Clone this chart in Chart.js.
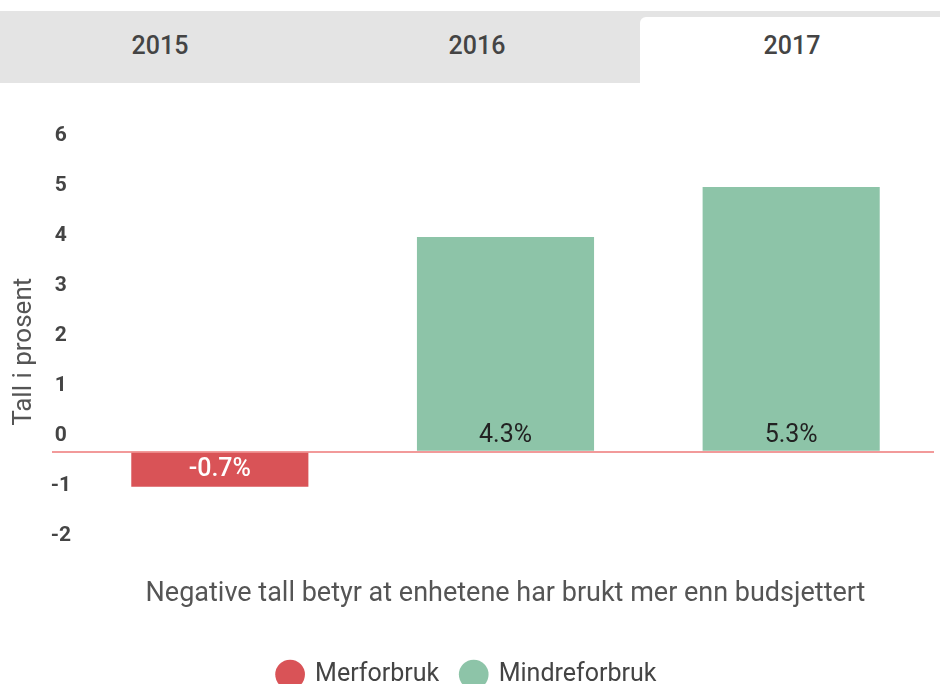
<!DOCTYPE html>
<html>
<head>
<meta charset="utf-8">
<script src="https://cdn.jsdelivr.net/npm/chart.js@4.4.0/dist/chart.umd.min.js"></script>
<style>
  body { margin: 0; background: #fff; font-family: Roboto, sans-serif; width: 940px; height: 684px; overflow: hidden; position: relative; }
  .tabs { position: absolute; left: 0; top: 11px; width: 940px; height: 72px; background: #e4e4e4; }
  .tab { position: absolute; top: 0; height: 72px; font-size: 25px; font-weight: 500; color: #444; text-align: center; line-height: 69px; }
  .tab.active { background: #fff; top: 6px; height: 66px; line-height: 57px; border-top-left-radius: 6px; }
  #wrap { position: absolute; left: 0; top: 83px; width: 940px; height: 614px; }
</style>
</head>
<body>
<div class="tabs">
  <div class="tab" style="left:0;width:320px">2015</div>
  <div class="tab" style="left:317px;width:320px">2016</div>
  <div class="tab active" style="left:640px;width:304px">2017</div>
</div>
<div id="wrap"><canvas id="avvikChart" width="940" height="614"></canvas></div>
<script>
const years = ['2015', '2016', '2017'];
const avvik = [-0.7, 4.3, 5.3];
const seriesNames = ['Merforbruk', 'Mindreforbruk'];
const seriesColors = ['#d95357', '#8dc4a8'];
const yMin = -2;
const yMax = 6;

// negative avvik go to the red series, the rest to the green one
const merforbruk = avvik.map(v => (v < 0 ? v : null));
const mindreforbruk = avvik.map(v => (v >= 0 ? v : null));

// value text sitting inside each bar, next to the zero line
const valueLabels = {
  id: 'valueLabels',
  afterDatasetsDraw(chart) {
    const ctx = chart.ctx;
    ctx.save();
    ctx.textAlign = 'center';
    ctx.textBaseline = 'middle';
    chart.data.datasets.forEach((ds, i) => {
      chart.getDatasetMeta(i).data.forEach((bar, j) => {
        const v = ds.data[j];
        if (v === null || v === undefined) return;
        const neg = v < 0;
        ctx.font = (neg ? '500 ' : '') + '25px Roboto';
        ctx.fillStyle = neg ? '#fff' : '#222';
        ctx.fillText(v + '%', bar.x, bar.base + (neg ? 17 : -15));
      });
    });
    ctx.restore();
  }
};

new Chart(document.getElementById('avvikChart'), {
  type: 'bar',
  data: {
    labels: years,
    datasets: [
      { label: seriesNames[0], data: merforbruk, backgroundColor: seriesColors[0] },
      { label: seriesNames[1], data: mindreforbruk, backgroundColor: seriesColors[1] },
    ],
  },
  options: {
    responsive: false,
    animation: false,
    devicePixelRatio: 1,
    barPercentage: 0.62,
    categoryPercentage: 1,
    layout: { padding: { left: 0, right: 6, top: 69, bottom: 0 } },
    scales: {
      x: {
        stacked: true,
        grid: { display: false },
        border: { display: false },
        ticks: { display: false },
        title: {
          display: true,
          text: 'Negative tall betyr at enhetene har brukt mer enn budsjettert',
          color: '#555',
          font: { family: 'Roboto', size: 27 },
          padding: { top: 18, bottom: 30 },
        },
      },
      y: {
        min: yMin,
        max: yMax,
        border: { display: false },
        ticks: {
          stepSize: 1,
          color: '#444',
          font: { family: 'Roboto', size: 21, weight: 'bold' },
          crossAlign: 'center',
          labelOffset: -16,
          padding: -19,
        },
        grid: {
          color: c => (c.tick && c.tick.value === 0 ? '#f29a9a' : 'rgba(0,0,0,0)'),
          lineWidth: 2,
          tickLength: 25,
        },
        title: {
          display: true,
          text: 'Tall i prosent',
          color: '#555',
          font: { family: 'Roboto', size: 26 },
          padding: { top: 9, bottom: 0 },
        },
        afterFit: s => { s.width = 77; },
      },
    },
    plugins: {
      legend: {
        position: 'bottom',
        labels: {
          usePointStyle: true,
          pointStyle: 'circle',
          boxWidth: 25,
          boxHeight: 21,
          padding: 22,
          color: '#444',
          font: { family: 'Roboto', size: 25 },
        },
      },
      tooltip: { enabled: false },
    },
  },
  plugins: [valueLabels],
});
</script>
</body>
</html>
